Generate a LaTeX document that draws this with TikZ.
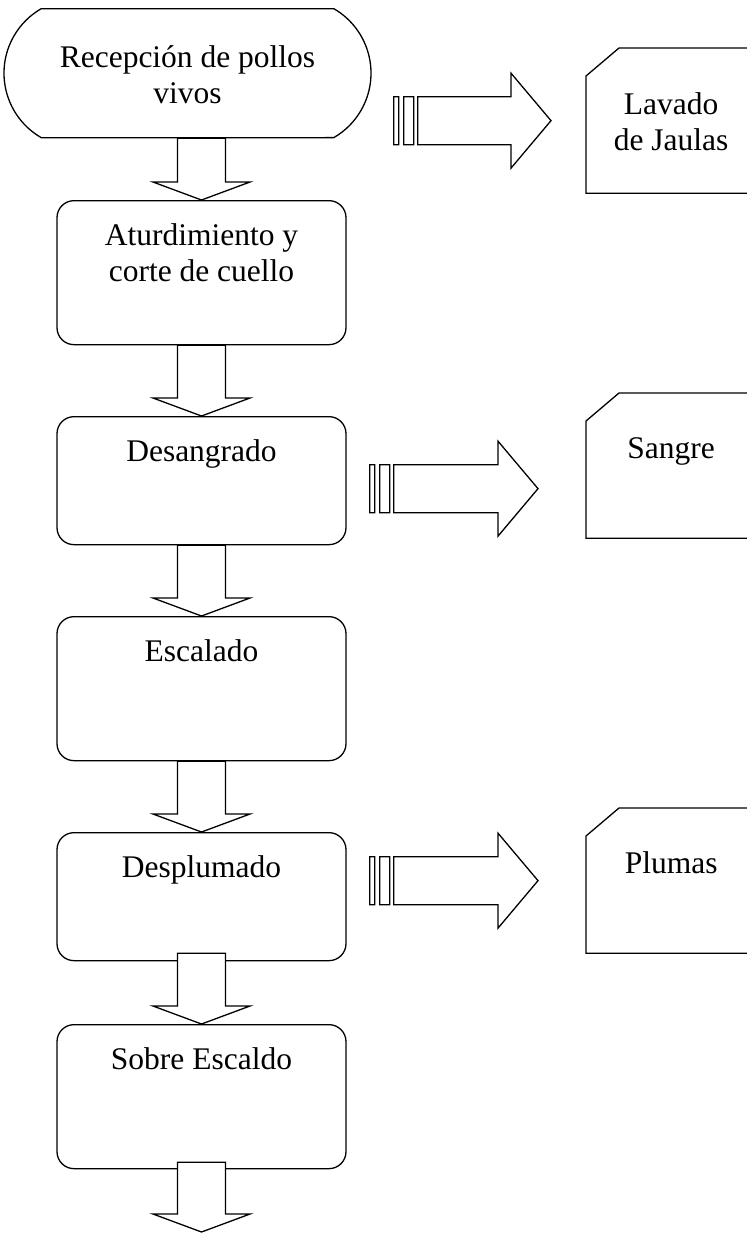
\documentclass[tikz,border=0pt]{standalone}
\usepackage{fontspec}
\setmainfont{Liberation Serif}
\usetikzlibrary{calc,shapes.misc}

\tikzset{
  caja/.style={draw, rounded corners=8.5pt, minimum width=144.5pt, inner sep=0pt,
    text height=22.5pt, text depth=#1, align=center},
  caja doble/.style={caja=#1, text height=40.5pt},
  inicio/.style={draw, rounded rectangle, rounded rectangle arc length=120,
    minimum width=183.5pt, inner sep=0pt, text height=47.5pt, text depth=17pt, align=center},
  residuo/.style={minimum width=84.5pt, inner sep=0pt, text height=32.5pt,
    text depth=39.5pt, align=center},
  flujo/.style={fill=white, to path={
    let \p1=(\tikztostart), \p2=(\tikztotarget) in
    (\x1-12pt,\y1) -- (\x1-12pt,\y2+9pt) -- (\x1-24.25pt,\y2+9pt) -- (\x1,\y2)
    -- (\x1+24.25pt,\y2+9pt) -- (\x1+12pt,\y2+9pt) -- (\x1+12pt,\y1) -- cycle}},
  salida/.style={fill=white, to path={
    let \p1=(\tikztostart), \p2=(\tikztotarget) in
    (\x1,\y1-12pt) rectangle (\x1+2.5pt,\y1+12pt)
    (\x1+5pt,\y1-12pt) rectangle (\x1+10pt,\y1+12pt)
    (\x1+12pt,\y1-12pt) -- (\x2-20pt,\y1-12pt) -- (\x2-20pt,\y1-23.75pt) -- (\x2,\y1)
    -- (\x2-20pt,\y1+23.75pt) -- (\x2-20pt,\y1+12pt) -- (\x1+12pt,\y1+12pt) -- cycle}}
}

\begin{document}
\begin{tikzpicture}[x=0.5pt,y=-0.5pt,line width=0.65pt,
    font=\fontsize{15.75pt}{18pt}\selectfont]

  \useasboundingbox (0,0) rectangle (747,1233);
  \clip (0,0) rectangle (747,1233);

  % proceso
  \node[inicio] (ini) [anchor=north] at (187.5,8) {Recepción de pollos\\vivos};
  \node[caja doble=31.5pt] (b2) [anchor=north] at (201.5,200) {Aturdimiento y\\corte de cuello};
  \node[caja=41.5pt] (b3) [anchor=north] at (201.5,416) {Desangrado};
  \node[caja=49.5pt] (b4) [anchor=north] at (201.5,616) {Escalado};
  \node[caja=41.5pt] (b5) [anchor=north] at (201.5,832) {Desplumado};
  \node[caja=49.5pt] (b6) [anchor=north] at (201.5,1024) {Sobre Escaldo};
  \coordinate (fin) at (201.5,1232);

  % residuos
  \node[residuo, text height=51pt, text depth=21pt] (lav) [anchor=north west] at (586,48) {Lavado\\de Jaulas};
  \node[residuo] (san) [anchor=north west] at (586,393) {Sangre};
  \node[residuo] (plu) [anchor=north west] at (586,808) {Plumas};
  \foreach \r in {lav,san,plu}
    \draw ([yshift=-14pt]\r.north west) -- ([xshift=16.5pt]\r.north west)
      -- (\r.north east) -- (\r.south east) -- (\r.south west) -- cycle;

  \draw[flujo] (b2.north |- ini.south) to (b2.north);
  \draw[flujo] (b2.south) to (b3.north);
  \draw[flujo] (b3.south) to (b4.north);
  \draw[flujo] (b4.south) to (b5.north);
  \draw[flujo] ([yshift=4pt]b5.south) to (b6.north);
  \draw[flujo] ([yshift=3.5pt]b6.south) to (fin);

  \draw[salida] ($(ini.east |- lav.west)+(11pt,0)$) to ([xshift=-17.5pt]lav.west);
  \draw[salida] ([xshift=11.5pt,yshift=-4pt]b3.east) to ([xshift=-24pt]san.west);
  \draw[salida] ($(b5.east |- plu.west)+(11.5pt,0)$) to ([xshift=-24pt]plu.west);

\end{tikzpicture}
\end{document}
